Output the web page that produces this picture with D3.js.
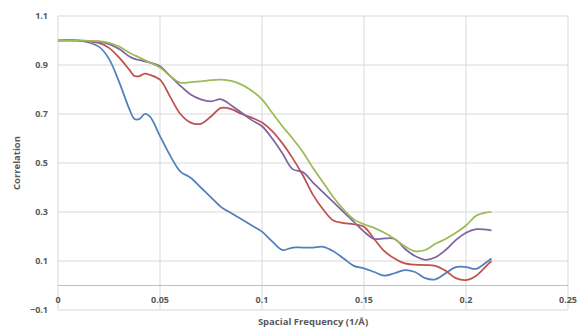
<!DOCTYPE html>
<html>
<head>
<meta charset="utf-8">
<script src="https://cdn.jsdelivr.net/npm/d3@7"></script>
<style>
  body { margin: 0; background: #fff; }
  svg { display: block; font-family: "Open Sans", "Liberation Sans", sans-serif; }
  .tick-label { fill: #595959; font-size: 9px; font-weight: bold; }
  .axis-title { fill: #595959; font-size: 9.5px; font-weight: bold; }
</style>
</head>
<body>
<div id="chart"></div>
<script>
const width = 586;
const height = 335;

// spacial frequency (1/A) shared by all curves
const freq = [0, 0.01, 0.02, 0.025, 0.03, 0.035, 0.0375, 0.04, 0.0425, 0.045,
  0.05, 0.055, 0.06, 0.065, 0.07, 0.075, 0.08, 0.085, 0.09, 0.095,
  0.1, 0.105, 0.11, 0.115, 0.12, 0.125, 0.13, 0.135, 0.14, 0.145,
  0.15, 0.155, 0.16, 0.165, 0.17, 0.175, 0.18, 0.185, 0.19, 0.195,
  0.2, 0.205, 0.21, 0.2125];

const blueCorr = [1.0, 1.0, 0.975, 0.925, 0.83, 0.72, 0.68, 0.68, 0.70, 0.69,
  0.61, 0.53, 0.465, 0.44, 0.40, 0.36, 0.32, 0.295, 0.27, 0.245,
  0.22, 0.18, 0.145, 0.155, 0.155, 0.155, 0.158, 0.14, 0.11, 0.08,
  0.07, 0.055, 0.04, 0.05, 0.063, 0.055, 0.03, 0.025, 0.05, 0.075,
  0.075, 0.068, 0.095, 0.11];

const redCorr = [1.0, 1.0, 0.99, 0.97, 0.93, 0.88, 0.855, 0.855, 0.865, 0.86,
  0.84, 0.77, 0.70, 0.665, 0.66, 0.69, 0.725, 0.72, 0.70, 0.685,
  0.665, 0.63, 0.58, 0.52, 0.45, 0.37, 0.31, 0.265, 0.255, 0.25,
  0.24, 0.19, 0.14, 0.11, 0.09, 0.085, 0.083, 0.08, 0.06, 0.03,
  0.022, 0.04, 0.08, 0.1];

const purpleCorr = [1.0, 1.0, 0.995, 0.985, 0.965, 0.935, 0.925, 0.92, 0.915, 0.91,
  0.895, 0.855, 0.815, 0.78, 0.76, 0.752, 0.76, 0.735, 0.705, 0.675,
  0.65, 0.60, 0.54, 0.475, 0.463, 0.42, 0.38, 0.34, 0.30, 0.26,
  0.22, 0.19, 0.192, 0.19, 0.15, 0.12, 0.105, 0.115, 0.145, 0.185,
  0.215, 0.23, 0.228, 0.225];

const greenCorr = [1.0, 1.0, 0.997, 0.99, 0.975, 0.95, 0.94, 0.93, 0.92, 0.91,
  0.89, 0.855, 0.828, 0.83, 0.833, 0.838, 0.84, 0.835, 0.82, 0.795,
  0.76, 0.705, 0.65, 0.60, 0.545, 0.48, 0.42, 0.36, 0.31, 0.27,
  0.25, 0.235, 0.215, 0.19, 0.16, 0.14, 0.145, 0.17, 0.19, 0.215,
  0.245, 0.285, 0.298, 0.3];

const xTicks = [0, 0.05, 0.1, 0.15, 0.2, 0.25];
const yTicks = [-0.1, 0.1, 0.3, 0.5, 0.7, 0.9, 1.1];

const series = [
  { values: blueCorr, color: "#4F81BD" },
  { values: redCorr, color: "#C0504D" },
  { values: purpleCorr, color: "#8064A2" },
  { values: greenCorr, color: "#9BBB59" }
];

const margin = { top: 16, right: 18, bottom: 25, left: 58 };

const svg = d3.select("#chart").append("svg")
    .attr("width", width)
    .attr("height", height);

const x = d3.scaleLinear().domain([0, 0.25]).range([margin.left, width - margin.right]);
const y = d3.scaleLinear().domain([-0.1, 1.1]).range([height - margin.bottom, margin.top]);

// gridlines
svg.append("g")
    .selectAll("line")
    .data(yTicks)
    .enter().append("line")
    .attr("x1", x(0)).attr("x2", x(0.25))
    .attr("y1", d => y(d)).attr("y2", d => y(d))
    .attr("stroke", "#D9D9D9").attr("stroke-width", 1);

svg.append("g")
    .selectAll("line")
    .data(xTicks)
    .enter().append("line")
    .attr("x1", d => x(d)).attr("x2", d => x(d))
    .attr("y1", y(1.1)).attr("y2", y(-0.1))
    .attr("stroke", "#D9D9D9").attr("stroke-width", 1);

// zero axis line
svg.append("line")
    .attr("x1", x(0)).attr("x2", x(0.25))
    .attr("y1", y(0)).attr("y2", y(0))
    .attr("stroke", "#BFBFBF").attr("stroke-width", 1);

// tick labels
svg.append("g")
    .selectAll("text")
    .data(yTicks)
    .enter().append("text")
    .attr("class", "tick-label")
    .attr("x", x(0) - 10)
    .attr("y", d => y(d) + 3)
    .attr("text-anchor", "end")
    .text(d => d3.format("")(+d.toFixed(1)));

svg.append("g")
    .selectAll("text")
    .data(xTicks)
    .enter().append("text")
    .attr("class", "tick-label")
    .attr("x", d => x(d))
    .attr("y", y(0) + 17)
    .attr("text-anchor", "middle")
    .text(d => String(d));

// axis titles
svg.append("text")
    .attr("class", "axis-title")
    .attr("transform", "translate(20," + ((y(1.1) + y(-0.1)) / 2) + ") rotate(-90)")
    .attr("text-anchor", "middle")
    .text("Correlation");

svg.append("text")
    .attr("class", "axis-title")
    .attr("x", (x(0) + x(0.25)) / 2)
    .attr("y", 325)
    .attr("text-anchor", "middle")
    .text("Spacial Frequency (1/Å)");

// curves
const line = d3.line()
    .x((d, i) => x(freq[i]))
    .y(d => y(d))
    .curve(d3.curveCatmullRom.alpha(0.5));

svg.append("g")
    .selectAll("path")
    .data(series)
    .enter().append("path")
    .attr("d", d => line(d.values))
    .attr("fill", "none")
    .attr("stroke", d => d.color)
    .attr("stroke-width", 1.75)
    .attr("stroke-linejoin", "round");
</script>
</body>
</html>
